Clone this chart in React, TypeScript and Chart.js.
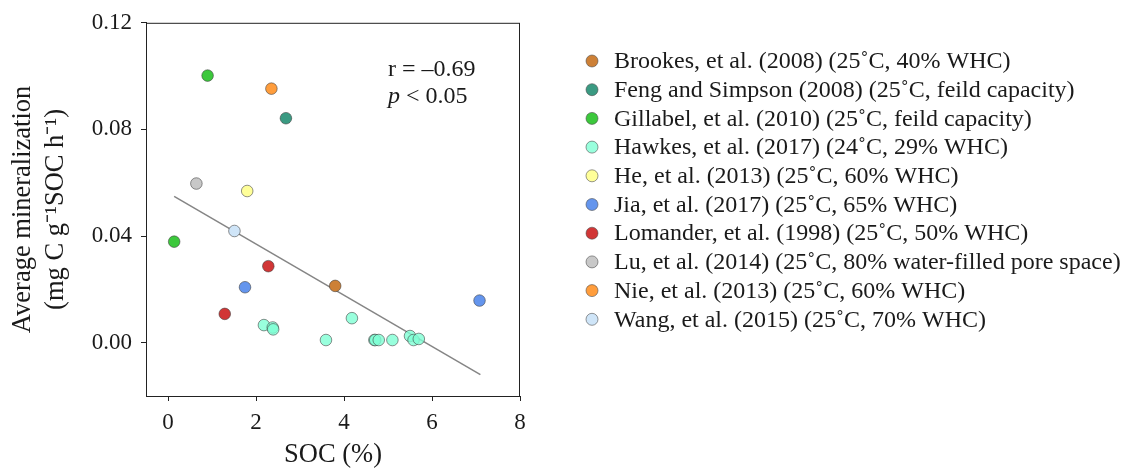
import React, { useEffect, useRef } from "react";
import { Chart, registerables } from "chart.js";

Chart.register(...registerables);

const FONT = "'Liberation Serif', 'Times New Roman', serif";

const studyLabels = [
  "Brookes, et al. (2008) (25˚C, 40% WHC)",
  "Feng and Simpson (2008) (25˚C, feild capacity)",
  "Gillabel, et al. (2010) (25˚C, feild capacity)",
  "Hawkes, et al. (2017) (24˚C, 29% WHC)",
  "He, et al. (2013) (25˚C, 60% WHC)",
  "Jia, et al. (2017) (25˚C, 65% WHC)",
  "Lomander, et al. (1998) (25˚C, 50% WHC)",
  "Lu, et al. (2014) (25˚C, 80% water-filled pore space)",
  "Nie, et al. (2013) (25˚C, 60% WHC)",
  "Wang, et al. (2015) (25˚C, 70% WHC)",
];

const studyColors = [
  "#cd8036",
  "#3a9a82",
  "#3cc83c",
  "rgba(127,255,212,0.8)",
  "#ffff99",
  "#6495ed",
  "#d13636",
  "#c8c8c8",
  "#ff9d3c",
  "#cfe5f8",
];

const brookesX = [3.8];
const brookesY = [0.0213];
const fengX = [2.68];
const fengY = [0.0842];
const gillabelX = [0.9, 0.14];
const gillabelY = [0.1002, 0.0379];
const hawkesX = [2.18, 2.38, 2.39, 3.59, 4.18, 4.69, 4.71, 4.79, 5.1, 5.5, 5.58, 5.7];
const hawkesY = [0.0066, 0.0057, 0.005, 0.001, 0.0092, 0.001, 0.001, 0.001, 0.001, 0.0025, 0.001, 0.0014];
const heX = [1.8];
const heY = [0.0569];
const jiaX = [1.75, 7.08];
const jiaY = [0.0208, 0.0158];
const lomanderX = [2.28, 1.29];
const lomanderY = [0.0287, 0.0108];
const luX = [0.645];
const luY = [0.0597];
const nieX = [2.35];
const nieY = [0.0953];
const wangX = [1.51];
const wangY = [0.0419];

const fitX = [0.14, 7.1];
const fitY = [0.0549, -0.012];

const xTicks = [0, 2, 4, 6, 8];
const yTicks = [0.0, 0.04, 0.08, 0.12];

const statR = "r = –0.69";
const statP = " < 0.05";
const statX = 5.0;
const statRY = 0.1024;
const statPY = 0.0924;

const seriesX = [brookesX, fengX, gillabelX, hawkesX, heX, jiaX, lomanderX, luX, nieX, wangX];
const seriesY = [brookesY, fengY, gillabelY, hawkesY, heY, jiaY, lomanderY, luY, nieY, wangY];

const zip = (xs: number[], ys: number[]) => xs.map((x, i) => ({ x, y: ys[i] }));

export default function App() {
  const ref = useRef<HTMLCanvasElement | null>(null);

  useEffect(() => {
    document.body.style.margin = "0";
    if (!ref.current) return;

    const frame = {
      id: "frame",
      afterDatasetsDraw(chart: any) {
        const { ctx, chartArea: a } = chart;
        ctx.save();
        ctx.strokeStyle = "#222";
        ctx.lineWidth = 1;
        ctx.strokeRect(a.left + 0.5, a.top + 0.5, a.right - a.left - 1, a.bottom - a.top);
        ctx.restore();
      },
      afterDraw(chart: any) {
        const { ctx } = chart;
        const xs = chart.scales.x;
        const ys = chart.scales.y;
        ctx.save();
        ctx.fillStyle = "#1a1a1a";
        ctx.textBaseline = "middle";
        ctx.textAlign = "left";
        const tx = xs.getPixelForValue(statX);
        ctx.font = `24px ${FONT}`;
        ctx.fillText(statR, tx, ys.getPixelForValue(statRY));
        ctx.font = `italic 24px ${FONT}`;
        const py = ys.getPixelForValue(statPY);
        ctx.fillText("p", tx, py);
        const w = ctx.measureText("p").width;
        ctx.font = `24px ${FONT}`;
        ctx.fillText(statP, tx + w, py);

        // legend
        const lx = 592;
        const ly0 = 61;
        const pitch = 28.7;
        chart.data.datasets.forEach((ds: any, i: number) => {
          if (ds.isFit) return;
          const y = ly0 + i * pitch;
          ctx.beginPath();
          ctx.arc(lx, y, 6, 0, Math.PI * 2);
          ctx.fillStyle = ds.backgroundColor;
          ctx.fill();
          ctx.lineWidth = 0.8;
          ctx.strokeStyle = "rgba(70,70,70,0.7)";
          ctx.stroke();
          ctx.fillStyle = "#1a1a1a";
          ctx.font = `24px ${FONT}`;
          ctx.fillText(ds.label, 614, y + 1);
        });
        ctx.restore();
      },
    };

    const datasets: any[] = studyLabels.map((label, i) => ({
      type: "scatter",
      label,
      data: zip(seriesX[i], seriesY[i]),
      backgroundColor: studyColors[i],
      borderColor: "rgba(60,60,60,0.7)",
      borderWidth: 0.8,
      pointRadius: 5.8,
      pointHoverRadius: 5.8,
      order: 1,
    }));
    datasets.push({
      type: "line",
      label: "fit",
      isFit: true,
      data: zip(fitX, fitY),
      borderColor: "#858585",
      borderWidth: 1.5,
      pointRadius: 0,
      fill: false,
      order: 2,
    });

    const chart = new Chart(ref.current, {
      type: "scatter",
      data: { datasets },
      options: {
        animation: false,
        responsive: false,
        devicePixelRatio: 1,
        layout: { padding: { top: 21, right: 614, bottom: 0, left: 0 } },
        plugins: { legend: { display: false }, tooltip: { enabled: false } },
        scales: {
          x: {
            type: "linear",
            min: -0.5,
            max: 8,
            afterFit: (s: any) => {
              s.height = 72;
            },
            afterBuildTicks: (s: any) => {
              s.ticks = xTicks.map((v) => ({ value: v }));
            },
            ticks: {
              padding: 8,
              color: "#1a1a1a",
              font: { family: FONT, size: 23 },
              callback: (v: any) => String(v),
            },
            grid: { drawOnChartArea: false, drawTicks: true, tickLength: 5, color: "#222" },
            border: { display: true, color: "#222", width: 1 },
            title: {
              display: true,
              text: "SOC (%)",
              color: "#1a1a1a",
              font: { family: FONT, size: 26.5, lineHeight: 1 },
              padding: 0,
            },
          },
          y: {
            type: "linear",
            min: -0.02,
            max: 0.12,
            afterFit: (s: any) => {
              s.width = 146;
            },
            afterBuildTicks: (s: any) => {
              s.ticks = yTicks.map((v) => ({ value: v }));
            },
            ticks: {
              padding: 9,
              color: "#1a1a1a",
              font: { family: FONT, size: 23 },
              callback: (v: any) => Number(v).toFixed(2),
            },
            grid: { drawOnChartArea: false, drawTicks: true, tickLength: 5, color: "#222" },
            border: { display: true, color: "#222", width: 1 },
            title: {
              display: true,
              text: ["Average mineralization", "(mg C g⁻¹SOC h⁻¹)"],
              color: "#1a1a1a",
              font: { family: FONT, size: 26.5, lineHeight: 1.27 },
              padding: { top: 6, bottom: 0 },
            },
          },
        },
      } as any,
      plugins: [frame as any],
    });

    return () => chart.destroy();
  }, []);

  return (
    <div style={{ width: 1134, height: 468, background: "#fff" }}>
      <canvas ref={ref} width={1134} height={468} style={{ width: 1134, height: 468, display: "block" }} />
    </div>
  );
}
